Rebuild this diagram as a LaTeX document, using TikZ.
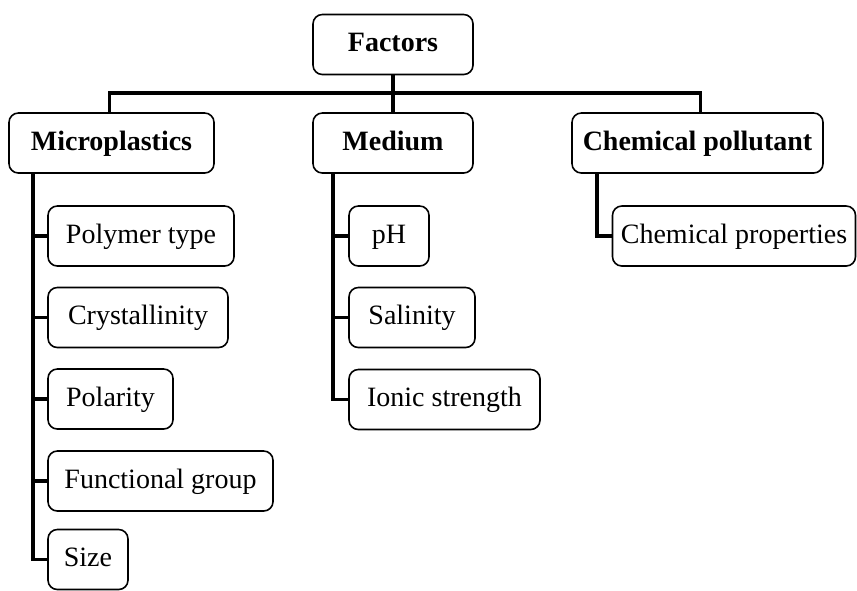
\documentclass[tikz,border=0pt]{standalone}
\usepackage{fontspec}
\setmainfont{Liberation Serif}
\usetikzlibrary{calc}

\tikzset{
  headbox/.style={draw, rounded corners=7pt, line width=1.2pt, minimum height=45pt,
    inner xsep=6pt, text height=14.7pt, text depth=4.2pt,
    font=\fontsize{21}{25}\selectfont\bfseries},
  itembox/.style={draw, rounded corners=7pt, line width=1.2pt, minimum height=45pt,
    inner xsep=6pt, text height=14.7pt, text depth=4.2pt,
    font=\fontsize{21}{25}\selectfont},
  link/.style={line width=2.4pt}
}

\begin{document}
\begin{tikzpicture}[x=0.75pt,y=0.75pt,yscale=-1,xscale=1]
\useasboundingbox (0,0) rectangle (857,590);

% Top box
\node [headbox, minimum width=120pt] (factors) at (393,44.5) {Factors};

% Second level
\node [headbox, minimum width=153.75pt] (micro) at (111.5,143) {Microplastics};
\node [headbox, minimum width=120pt] (medium) at (393,143) {Medium};
\node [headbox, minimum width=188.25pt] (chem) at (697.5,143) {Chemical pollutant};

% Microplastics items
\node [itembox, minimum width=139.5pt] (polymer) at (141,236) {Polymer type};
\node [itembox, minimum width=135pt] (cryst) at (138,317.5) {Crystallinity};
\node [itembox, minimum width=93.75pt] (polarity) at (110.5,399) {Polarity};
\node [itembox, minimum width=168.75pt] (func) at (160.5,481) {Functional group};
\node [itembox, minimum width=60pt] (size) at (88,559.5) {Size};

% Medium items
\node [itembox, minimum width=60pt] (ph) at (389,236) {pH};
\node [itembox, minimum width=94.5pt] (salinity) at (412,317.5) {Salinity};
\node [itembox, minimum width=143.25pt] (ionic) at (444.5,399.5) {Ionic strength};

% Chemical pollutant items
\node [itembox, minimum width=182.25pt] (chemprop) at (734,236) {Chemical properties};

% Bus and trunks
\coordinate (bus) at (0,93);
\coordinate (mtrunk) at (33,0);
\coordinate (dtrunk) at (333,0);
\coordinate (ctrunk) at (597,0);

% Top connectors
\draw [link] (factors.south) -- (medium.north);
\draw [link] ([xshift=-1.5]micro.north) -- ([xshift=-1.5]micro.north |- bus) -- ([xshift=2.5]chem.north |- bus) -- ([xshift=2.5]chem.north);

% Microplastics tree
\draw [link] (micro.south -| mtrunk) |- (size.west);
\foreach \c in {polymer,cryst,polarity,func}
  \draw [link] (\c.west) -- (\c.west -| mtrunk);

% Medium tree
\draw [link] (medium.south -| dtrunk) |- (ionic.west);
\foreach \c in {ph,salinity}
  \draw [link] (\c.west) -- (\c.west -| dtrunk);

% Chemical pollutant tree
\draw [link] (chem.south -| ctrunk) |- (chemprop.west);

\end{tikzpicture}
\end{document}
